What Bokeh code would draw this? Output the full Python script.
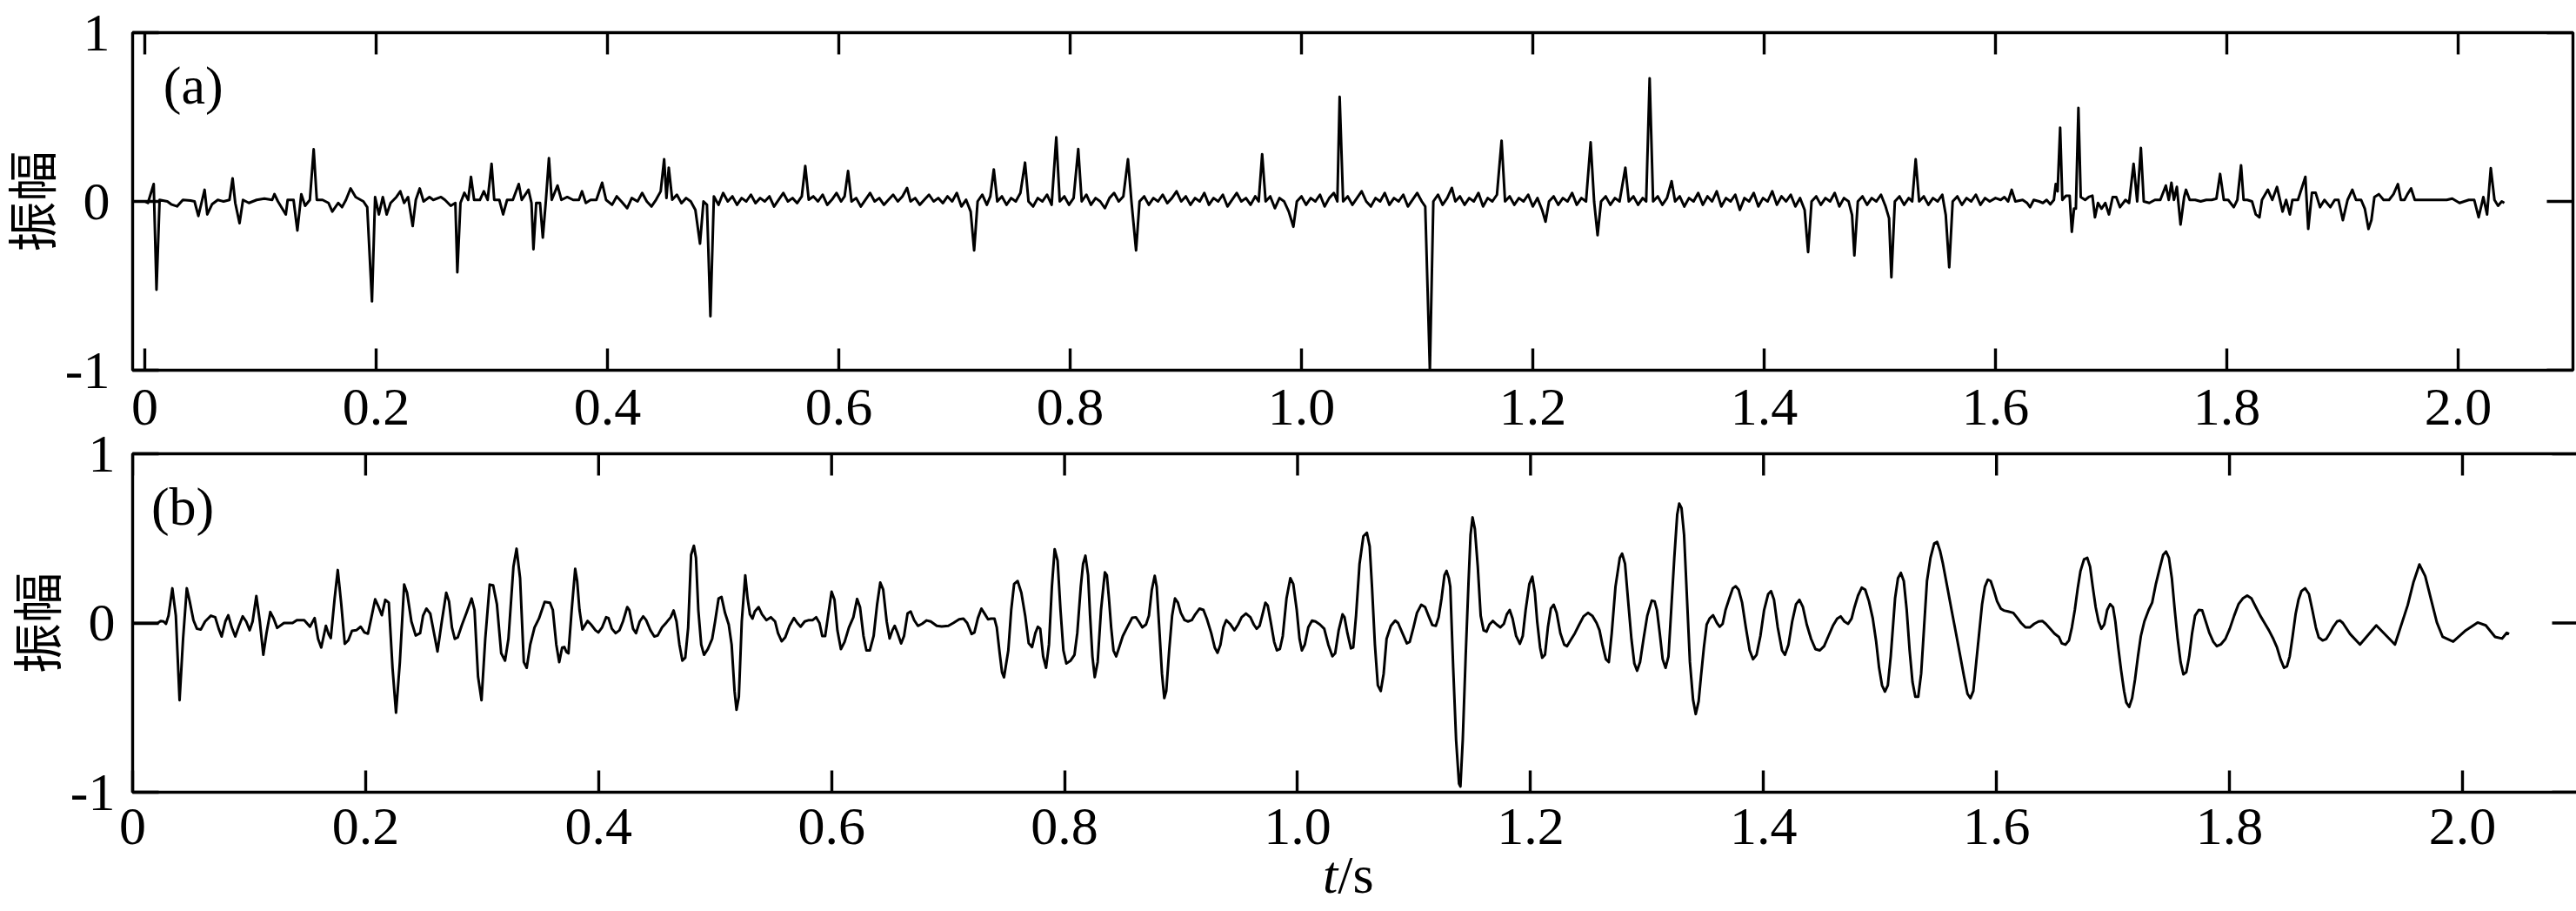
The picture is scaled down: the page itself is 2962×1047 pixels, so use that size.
import math
from bokeh.plotting import figure
from bokeh.models import Range1d, LinearAxis, FixedTicker, Label, Div
from bokeh.layouts import column
from bokeh.embed import file_html
from bokeh.resources import INLINE

# ---------------- data ----------------
# (a) reflectivity-like spike trace: (time s, amplitude)
trace_a = [
    (0, 0), (0.0027, -0.009), (0.0077, 0.103), (0.0101, -0.523), (0.0128, 0.009), (0.0195, 0),
    (0.0228, -0.017), (0.0279, -0.029), (0.0329, 0.009), (0.0396, 0.005), (0.043, 0), (0.0463, -0.086),
    (0.049, -0.009), (0.0517, 0.069), (0.054, -0.077), (0.0581, -0.017), (0.0631, 0.009), (0.0681, 0),
    (0.0732, 0.009), (0.0759, 0.137), (0.0782, -0.009), (0.0819, -0.129), (0.0849, 0.009), (0.09, -0.009),
    (0.0967, 0.009), (0.1034, 0.017), (0.1101, 0.009), (0.1121, 0.043), (0.1151, 0), (0.1219, -0.077),
    (0.1235, 0.009), (0.1286, 0.009), (0.1319, -0.172), (0.1353, 0.043), (0.1386, -0.026), (0.1427, 0.009),
    (0.146, 0.309), (0.1487, 0.009), (0.1537, 0.009), (0.1588, -0.009), (0.1621, -0.06), (0.1672, -0.009),
    (0.1705, -0.034), (0.1739, 0.009), (0.1779, 0.077), (0.1823, 0.026), (0.189, 0), (0.1923, -0.034),
    (0.1964, -0.592), (0.1991, 0.026), (0.2024, -0.077), (0.2058, 0.026), (0.2091, -0.077), (0.2125, -0.009),
    (0.2175, 0.026), (0.2209, 0.06), (0.2242, -0.009), (0.2276, 0.026), (0.2316, -0.146), (0.2343, 0.009),
    (0.2377, 0.077), (0.241, 0), (0.2461, 0.026), (0.2494, 0.009), (0.2561, 0.026), (0.2595, 0.009),
    (0.2645, -0.026), (0.2685, -0.009), (0.2702, -0.42), (0.2729, -0.009), (0.2763, 0.051), (0.2796, 0.009),
    (0.282, 0.146), (0.2847, 0.009), (0.2897, 0.009), (0.2931, 0.06), (0.2964, 0.009), (0.2998, 0.223),
    (0.3021, 0.009), (0.3065, 0.009), (0.3098, -0.077), (0.3132, 0.009), (0.3182, 0.009), (0.3233, 0.103),
    (0.3259, 0.009), (0.3317, 0.069), (0.3343, -0.009), (0.336, -0.283), (0.3384, -0.009), (0.3417, -0.009),
    (0.3441, -0.214), (0.3468, 0.009), (0.3494, 0.257), (0.3518, 0.009), (0.3568, 0.094), (0.3602, 0.009),
    (0.3652, 0.026), (0.3703, 0.009), (0.3753, 0.009), (0.378, 0.06), (0.3813, -0.009), (0.3854, 0.009),
    (0.3904, 0.009), (0.3954, 0.111), (0.3988, 0.009),
    (0.404, -0.02), (0.408, 0.03), (0.412, 0.0), (0.417, -0.04), (0.421, 0.02), (0.426, 0.0), (0.43, 0.05),
    (0.434, 0.0), (0.438, -0.03), (0.442, 0.01), (0.446, 0.06), (0.449, 0.25), (0.451, 0.02), (0.453, 0.2),
    (0.456, 0.01), (0.46, 0.04), (0.464, -0.01), (0.468, 0.02), (0.472, 0.0), (0.476, -0.05), (0.48, -0.25),
    (0.483, 0.0), (0.486, -0.02), (0.489, -0.68), (0.492, 0.03), (0.496, -0.02), (0.5, 0.05), (0.504, 0.0),
    (0.508, 0.03), (0.512, -0.02), (0.516, 0.02), (0.52, 0.0), (0.524, 0.04), (0.528, -0.01), (0.532, 0.02),
    (0.536, 0.0), (0.54, 0.03), (0.544, -0.03), (0.548, 0.01), (0.552, 0.05), (0.556, 0.0), (0.56, 0.02),
    (0.564, -0.01), (0.568, 0.03), (0.571, 0.21), (0.574, 0.01), (0.578, 0.03), (0.582, 0.0), (0.586, 0.04),
    (0.59, -0.02), (0.594, 0.01), (0.598, 0.05), (0.602, 0.0), (0.605, 0.03), (0.608, 0.18), (0.611, 0.0),
    (0.615, 0.02), (0.619, -0.03), (0.623, 0.01), (0.627, 0.05), (0.631, 0.0), (0.635, 0.02), (0.639, -0.02),
    (0.643, 0.01), (0.647, 0.04), (0.651, 0.0), (0.655, 0.03), (0.659, 0.08), (0.662, 0.0), (0.666, 0.02),
    (0.67, -0.02), (0.674, 0.01), (0.678, 0.04), (0.682, 0.0), (0.686, 0.02), (0.69, -0.01), (0.694, 0.03),
    (0.698, 0.0), (0.702, 0.05), (0.706, -0.03), (0.71, 0.01), (0.714, -0.06), (0.717, -0.29), (0.72, 0.0),
    (0.724, 0.04), (0.728, -0.02), (0.731, 0.03), (0.734, 0.19), (0.737, 0.0), (0.741, 0.03), (0.745, -0.02),
    (0.749, 0.02), (0.753, 0.0), (0.757, 0.05), (0.761, 0.23), (0.764, 0.0), (0.768, -0.03), (0.772, 0.02),
    (0.776, 0.0), (0.78, 0.04), (0.784, -0.02), (0.788, 0.38), (0.791, 0.0), (0.795, 0.03), (0.799, -0.02),
    (0.803, 0.02), (0.807, 0.31), (0.81, 0.0), (0.814, 0.04), (0.818, -0.02), (0.822, 0.02), (0.826, 0.0),
    (0.83, -0.04), (0.834, 0.02), (0.838, 0.05), (0.842, 0.0), (0.846, 0.03), (0.85, 0.25), (0.853, 0.0),
    (0.857, -0.29), (0.86, 0.0), (0.864, 0.03), (0.868, -0.02), (0.872, 0.02), (0.876, 0.0), (0.88, 0.04),
    (0.884, -0.01), (0.888, 0.02), (0.892, 0.06), (0.896, 0.0), (0.9, 0.03), (0.904, -0.02), (0.908, 0.02),
    (0.912, 0.0), (0.916, 0.05), (0.92, -0.02), (0.924, 0.02), (0.928, 0.0), (0.932, 0.04), (0.936, -0.03),
    (0.94, 0.01), (0.944, 0.05), (0.948, 0.0), (0.952, 0.02), (0.956, -0.02), (0.96, 0.03), (0.963, 0.0),
    (0.966, 0.28), (0.969, 0.0), (0.973, 0.03), (0.977, -0.04), (0.981, 0.02), (0.985, 0.0), (0.989, -0.06),
    (0.993, -0.15), (0.996, 0.0), (1.0, 0.03), (1.004, -0.02), (1.008, 0.02), (1.012, 0.0), (1.016, 0.04),
    (1.02, -0.03), (1.024, 0.02), (1.028, 0.05), (1.031, 0.0), (1.033, 0.62), (1.036, 0.0), (1.04, 0.03),
    (1.044, -0.02), (1.048, 0.02), (1.052, 0.06), (1.056, 0.0), (1.06, -0.03), (1.064, 0.02), (1.068, 0.0),
    (1.072, 0.05), (1.076, -0.02), (1.08, 0.02), (1.084, 0.0), (1.088, 0.04), (1.092, -0.03), (1.096, 0.01),
    (1.1, 0.05), (1.104, 0.0), (1.107, -0.03), (1.111, -1.0), (1.114, 0.0), (1.118, 0.04), (1.122, -0.02),
    (1.126, 0.02), (1.13, 0.08), (1.133, 0.0), (1.137, 0.03), (1.141, -0.02), (1.145, 0.02), (1.149, 0.0),
    (1.153, 0.05), (1.157, -0.03), (1.161, 0.02), (1.165, 0.0), (1.169, 0.04), (1.173, 0.36), (1.176, 0.0),
    (1.18, 0.03), (1.184, -0.02), (1.188, 0.02), (1.192, 0.0), (1.196, 0.04), (1.2, -0.03), (1.204, 0.02),
    (1.208, -0.05), (1.211, -0.12), (1.214, 0.0), (1.218, 0.03), (1.222, -0.02), (1.226, 0.02), (1.23, 0.0),
    (1.234, 0.05), (1.238, -0.02), (1.242, 0.02), (1.246, 0.0), (1.25, 0.35), (1.253, 0.0), (1.256, -0.2),
    (1.259, 0.0), (1.263, 0.03), (1.267, -0.02), (1.271, 0.02), (1.275, 0.0), (1.28, 0.2), (1.283, 0.0),
    (1.287, 0.03), (1.291, -0.02), (1.295, 0.02), (1.298, 0.0), (1.301, 0.73), (1.304, 0.0), (1.308, 0.03),
    (1.312, -0.02), (1.316, 0.02), (1.32, 0.12), (1.323, 0.0), (1.327, 0.03), (1.331, -0.03), (1.335, 0.02),
    (1.339, 0.0), (1.343, 0.05), (1.347, -0.02), (1.351, 0.03), (1.355, 0.0), (1.359, 0.06), (1.363, -0.03),
    (1.367, 0.02), (1.371, 0.0), (1.375, 0.04), (1.379, -0.05), (1.383, 0.02), (1.387, 0.0), (1.391, 0.05),
    (1.395, -0.03), (1.399, 0.02), (1.403, 0.0), (1.407, 0.06), (1.411, -0.02), (1.415, 0.03), (1.419, 0.0),
    (1.423, 0.04), (1.427, -0.03), (1.431, 0.02), (1.435, -0.05), (1.438, -0.3), (1.441, 0.0), (1.445, 0.03),
    (1.449, -0.02), (1.453, 0.02), (1.457, 0.0), (1.461, 0.05), (1.465, -0.03), (1.469, 0.02), (1.473, 0.0),
    (1.476, -0.08), (1.478, -0.32), (1.481, 0.0), (1.485, 0.03), (1.489, -0.02), (1.493, 0.02), (1.497, 0.0),
    (1.501, 0.04), (1.505, -0.03), (1.508, -0.1), (1.51, -0.45), (1.513, 0.0), (1.517, 0.03), (1.521, -0.02),
    (1.525, 0.02), (1.528, 0.0), (1.531, 0.25), (1.534, 0.0), (1.538, 0.03), (1.542, -0.02), (1.546, 0.02),
    (1.55, 0.0), (1.554, 0.04), (1.557, -0.08), (1.56, -0.39), (1.563, 0.0), (1.567, 0.03), (1.571, -0.02),
    (1.575, 0.02), (1.579, 0.0), (1.583, 0.04), (1.587, -0.02), (1.591, 0.02), (1.595, 0.0), (1.6, 0.02),
    (1.6045, 0.009), (1.6077, 0.026), (1.6109, 0), (1.614, 0.069), (1.6172, 0), (1.6235, 0.009),
    (1.6273, -0.009), (1.6299, -0.034), (1.6331, 0.009), (1.6378, 0), (1.641, -0.009), (1.6442, 0.009),
    (1.6474, -0.017), (1.6505, 0.009), (1.6521, 0.103), (1.6537, 0.06), (1.6559, 0.437), (1.6578, 0.009),
    (1.6609, 0.034), (1.6641, 0.034), (1.666, -0.18), (1.6679, -0.043), (1.6695, -0.043), (1.6717, 0.554),
    (1.6737, 0.026), (1.6775, 0.009), (1.6806, 0.026), (1.6838, 0.034), (1.686, -0.094), (1.6886, -0.009),
    (1.6917, -0.043), (1.6949, -0.009), (1.6981, -0.077), (1.7013, 0.026), (1.7044, 0.026), (1.7076, -0.034),
    (1.7124, 0.009), (1.7155, -0.009), (1.7194, 0.223), (1.7225, 0), (1.7257, 0.317), (1.7282, 0),
    (1.733, -0.009), (1.7378, 0.009), (1.7425, 0.009), (1.7473, 0.094), (1.7498, 0.009), (1.7521, 0.111),
    (1.7543, 0.009), (1.7568, 0.086), (1.76, -0.137), (1.7631, 0.026), (1.7647, 0.069), (1.7679, 0.009),
    (1.7727, 0.009), (1.7774, 0), (1.7822, 0.009), (1.7869, 0.009), (1.791, 0.017), (1.7942, 0.163),
    (1.7974, 0.009), (1.8012, 0.009), (1.806, -0.034), (1.8091, 0.009), (1.8123, 0.214), (1.8145, 0.009),
    (1.8177, 0.009), (1.8218, 0), (1.825, -0.077), (1.8282, -0.094), (1.8304, 0.009), (1.8355, 0.069),
    (1.8393, 0.009), (1.8434, 0.086), (1.8482, -0.06), (1.8513, 0.009), (1.8545, -0.077), (1.8567, 0.009),
    (1.8615, 0.009), (1.8679, 0.146), (1.8704, -0.163), (1.8736, 0.051), (1.8768, 0.051), (1.8806, -0.034),
    (1.8844, 0.009), (1.8895, -0.034), (1.8933, 0.009), (1.8965, 0.009), (1.9003, -0.111), (1.9044, 0.009),
    (1.9085, 0.069), (1.9117, 0.009), (1.9161, 0.009), (1.9193, -0.043), (1.9225, -0.163), (1.925, -0.111),
    (1.9276, 0.026), (1.9314, 0.043), (1.9355, 0.009), (1.9403, 0.009), (1.9441, 0.043), (1.9479, 0.103),
    (1.9505, 0.009), (1.9536, 0.009), (1.9562, 0.043), (1.9593, 0.077), (1.9625, 0.009), (1.9663, 0.009),
    (1.9727, 0.009), (1.9822, 0.009), (1.9901, 0.009), (1.9949, 0.017), (2.0012, -0.009), (2.0092, 0.009),
    (2.0139, 0.009), (2.0177, -0.094), (2.0218, 0.026), (2.025, -0.077), (2.0282, 0.197), (2.0314, 0.009),
    (2.0345, -0.026), (2.0377, 0), (2.0399, -0.009),
]

# (b) synthetic seismic trace: (time s, amplitude)
trace_b = [
    (0, 0), (0.0216, 0), (0.0241, 0.012), (0.0266, 0.009), (0.0286, -0.005), (0.0308, 0.043), (0.0341, 0.205),
    (0.0371, 0.043), (0.0403, -0.456), (0.0433, -0.094), (0.0465, 0.205), (0.049, 0.128), (0.0522, 0.017),
    (0.0552, -0.034), (0.0585, -0.039), (0.0622, 0.009), (0.0672, 0.043), (0.0709, 0.034), (0.0739, -0.034),
    (0.0764, -0.08), (0.0796, 0.009), (0.0821, 0.046), (0.0851, -0.026), (0.0881, -0.08), (0.0913, -0.017),
    (0.0945, 0.039), (0.0975, 0.009), (0.1005, -0.043), (0.103, 0.009), (0.1062, 0.159), (0.1092, 0.009),
    (0.1122, -0.188), (0.1149, -0.06), (0.1182, 0.065), (0.1211, 0.026), (0.1241, -0.029), (0.1299, 0),
    (0.1373, 0), (0.141, 0.017), (0.1473, 0.017), (0.1522, -0.022), (0.1562, 0.029), (0.1592, -0.094),
    (0.1619, -0.145), (0.1659, -0.017), (0.1684, -0.068), (0.1701, -0.089), (0.1734, 0.145), (0.1761, 0.313),
    (0.1791, 0.111), (0.1821, -0.123), (0.1851, -0.103), (0.1883, -0.046), (0.192, -0.043), (0.1958, -0.022),
    (0.199, -0.056), (0.202, -0.063), (0.205, 0.034), (0.2082, 0.14), (0.2112, 0.094), (0.2139, 0.046),
    (0.2169, 0.137), (0.2199, 0.12), (0.2231, -0.265), (0.2261, -0.53), (0.2294, -0.231), (0.2331, 0.227),
    (0.2356, 0.179), (0.2393, 0.009), (0.243, -0.074), (0.2468, -0.06), (0.2493, 0.043), (0.2522, 0.085),
    (0.2555, 0.056), (0.2592, -0.077), (0.2617, -0.168), (0.2654, 0.009), (0.2692, 0.179), (0.2716, 0.128),
    (0.2741, -0.026), (0.2766, -0.094), (0.2791, -0.085), (0.2828, -0.009), (0.2866, 0.06), (0.291, 0.145),
    (0.2935, 0.077), (0.2965, -0.316), (0.2995, -0.456), (0.3027, -0.094), (0.3065, 0.227), (0.3095, 0.222),
    (0.3127, 0.111), (0.3164, -0.179), (0.3197, -0.222), (0.3226, -0.094), (0.3269, 0.333), (0.3296, 0.439),
    (0.3326, 0.265), (0.3358, -0.231), (0.3383, -0.265), (0.3413, -0.128), (0.345, -0.026), (0.3488, 0.026),
    (0.3537, 0.125), (0.3582, 0.12), (0.3607, 0.077), (0.3637, -0.128), (0.3662, -0.231),
    (0.3687, -0.145), (0.3706, -0.142), (0.3724, -0.171), (0.3741, -0.179), (0.3769, 0.077), (0.3799, 0.32),
    (0.3816, 0.248), (0.3836, 0.077), (0.3861, -0.039), (0.3905, 0.012), (0.3935, -0.009), (0.3973, -0.043),
    (0.3998, -0.056), (0.403, -0.026), (0.4065, 0.034), (0.4085, 0.029), (0.4114, -0.034), (0.4147, -0.06),
    (0.4179, -0.043), (0.4209, 0.009), (0.4246, 0.094), (0.4264, 0.077), (0.4296, -0.034), (0.4321, -0.06),
    (0.4353, 0.009), (0.4383, 0.039), (0.4408, 0.017), (0.4445, -0.043), (0.4478, -0.08), (0.4507, -0.074),
    (0.4545, -0.026), (0.4582, 0.003), (0.4619, 0.034), (0.4644, 0.074), (0.4669, 0.009), (0.4694, -0.128),
    (0.4719, -0.222), (0.4744, -0.205), (0.4769, -0.026), (0.4794, 0.402), (0.4818, 0.456), (0.4836, 0.385),
    (0.4856, 0.077), (0.4881, -0.128), (0.4905, -0.188), (0.4938, -0.154), (0.4975, -0.094), (0.5, 0.009),
    (0.503, 0.145), (0.5055, 0.154), (0.5085, 0.06), (0.5117, -0.009), (0.5142, -0.128), (0.5167, -0.402),
    (0.5184, -0.513), (0.5204, -0.436), (0.5229, 0.009), (0.5259, 0.282), (0.5279, 0.145), (0.5299, 0.051),
    (0.5321, 0.026), (0.5341, 0.068), (0.5373, 0.094), (0.5403, 0.051), (0.544, 0.017), (0.5478, 0.034),
    (0.5515, 0.009), (0.554, -0.06), (0.5572, -0.108), (0.5602, -0.085), (0.5639, -0.017), (0.5677, 0.029),
    (0.5706, 0), (0.5734, -0.022), (0.5769, 0.009), (0.5806, 0.017), (0.5838, 0.017), (0.5868, 0.034),
    (0.5896, 0), (0.592, -0.077), (0.5945, -0.077), (0.597, 0.043), (0.6, 0.185), (0.6025, 0.137),
    (0.605, -0.043), (0.608, -0.154), (0.6112, -0.111), (0.6149, -0.026), (0.6187, 0.034), (0.6219, 0.142),
    (0.6244, 0.094), (0.6274, -0.077), (0.6299, -0.162), (0.6328, -0.162), (0.6361, -0.077), (0.6391, 0.111),
    (0.6418, 0.239), (0.6443, 0.197), (0.6473, 0.009), (0.6498, -0.091), (0.6522, -0.043), (0.6542, -0.017),
    (0.6567, -0.06), (0.6597, -0.121), (0.6622, -0.077), (0.6652, 0.056), (0.6679, 0.068), (0.6709, 0.017),
    (0.6741, -0.017), (0.6776, -0.005), (0.6816, 0.015), (0.6851, 0.009), (0.6903, -0.017), (0.6945, -0.021),
    (0.7002, -0.017), (0.7045, 0), (0.7095, 0.022), (0.7132, 0.026), (0.7164, 0), (0.7202, -0.065),
    (0.7226, -0.056), (0.7256, 0.029), (0.7286, 0.085), (0.7313, 0.056), (0.7343, 0.022), (0.7368, 0.026),
    (0.7398, 0.026), (0.7418, -0.026), (0.7443, -0.179), (0.7463, -0.291), (0.748, -0.321),
    (0.7517, -0.162), (0.7542, 0.077), (0.7567, 0.231), (0.7597, 0.248), (0.7629, 0.179), (0.7662, 0.043),
    (0.7692, -0.12), (0.7721, -0.142), (0.7749, -0.06), (0.7771, -0.022), (0.7791, -0.034), (0.7816, -0.197),
    (0.7841, -0.265), (0.7866, -0.128), (0.7891, 0.214), (0.7915, 0.436), (0.794, 0.368), (0.7965, 0.077),
    (0.799, -0.162), (0.8015, -0.239), (0.8052, -0.222), (0.8085, -0.188), (0.8109, -0.06), (0.8139, 0.214),
    (0.8159, 0.35), (0.8179, 0.398), (0.8202, 0.282), (0.8219, 0.043), (0.8239, -0.197), (0.8259, -0.32),
    (0.8284, -0.231), (0.8313, 0.077), (0.8333, 0.214), (0.8346, 0.299), (0.8363, 0.282), (0.8381, 0.145),
    (0.84, -0.026), (0.842, -0.162), (0.8443, -0.197), (0.8468, -0.145), (0.85, -0.077), (0.8537, -0.026),
    (0.858, 0.031), (0.8612, 0.034), (0.8637, 0.009), (0.8667, -0.026), (0.8699, -0.009), (0.8724, 0.043),
    (0.8749, 0.197), (0.8774, 0.279), (0.8791, 0.214), (0.8811, -0.009), (0.8836, -0.299), (0.8856, -0.444),
    (0.8873, -0.402), (0.8898, -0.162), (0.8923, 0.043), (0.8948, 0.145), (0.8973, 0.12), (0.8998, 0.06),
    (0.903, 0.017), (0.906, 0.009), (0.9092, 0.017), (0.9122, 0.051), (0.9159, 0.085), (0.9192, 0.077),
    (0.9221, 0.026), (0.9259, -0.06), (0.9289, -0.145), (0.9313, -0.176), (0.9338, -0.128), (0.9363, -0.026),
    (0.9388, 0.017), (0.942, -0.005), (0.9458, -0.043), (0.949, -0.009), (0.952, 0.034), (0.9557, 0.056),
    (0.9595, 0.034), (0.9624, -0.009), (0.9649, -0.034), (0.9674, -0.017), (0.9699, 0.051), (0.9724, 0.12),
    (0.9744, 0.103), (0.9769, 0.009), (0.9799, -0.111), (0.9823, -0.162), (0.9848, -0.154), (0.9873, -0.077),
    (0.9905, 0.145), (0.9938, 0.265), (0.9963, 0.231), (0.9993, 0.077), (1.0017, -0.094), (1.0037, -0.162),
    (1.0062, -0.128), (1.0092, -0.026), (1.0124, 0.014), (1.0154, 0.009), (1.0192, -0.009), (1.0229, -0.034),
    (1.0264, -0.128), (1.0299, -0.197), (1.0323, -0.179), (1.0353, -0.043), (1.0386, 0.051), (1.0403, 0.034),
    (1.0428, -0.06), (1.0458, -0.15), (1.0478, -0.145), (1.0502, 0.043), (1.0532, 0.35), (1.0565, 0.513),
    (1.0595, 0.533), (1.0619, 0.453), (1.0639, 0.214), (1.0664, -0.128), (1.0689, -0.368), (1.0714, -0.402),
    (1.0739, -0.299), (1.0764, -0.094), (1.0801, -0.017), (1.0838, 0.014), (1.0863, 0), (1.09, -0.06),
    (1.0938, -0.12), (1.0963, -0.111), (1.0995, -0.026), (1.1025, 0.06), (1.1062, 0.108), (1.1095, 0.094),
    (1.1124, 0.043), (1.1157, -0.012), (1.1187, -0.017), (1.1211, 0.034), (1.1236, 0.145), (1.1261, 0.282),
    (1.1279, 0.308), (1.1299, 0.265),
    (1.1311, 0.214), (1.1336, -0.265), (1.1361, -0.692), (1.1386, -0.949), (1.1398, -0.966), (1.1418, -0.692),
    (1.1443, -0.197), (1.1468, 0.248), (1.1485, 0.521), (1.1502, 0.624), (1.1522, 0.556), (1.1547, 0.333),
    (1.1572, 0.043), (1.1597, -0.043), (1.1622, -0.051), (1.1647, -0.009), (1.1676, 0.012), (1.1709, -0.009),
    (1.1741, -0.026), (1.1771, -0.005), (1.1796, 0.051), (1.1821, 0.077), (1.1846, 0.026), (1.1876, -0.077),
    (1.1908, -0.123), (1.1933, -0.077), (1.1958, 0.077), (1.199, 0.231), (1.2015, 0.274), (1.2037, 0.179),
    (1.2057, 0.009), (1.2082, -0.145), (1.21, -0.205), (1.2124, -0.188), (1.2149, -0.026), (1.2174, 0.085),
    (1.2199, 0.108), (1.2224, 0.06), (1.2256, -0.06), (1.2289, -0.128), (1.2313, -0.137), (1.2343, -0.103),
    (1.2381, -0.06), (1.2418, -0.009), (1.2455, 0.039), (1.2493, 0.06), (1.253, 0.043), (1.2567, 0),
    (1.2592, -0.043), (1.2617, -0.128), (1.2647, -0.214), (1.2672, -0.231), (1.2697, -0.06), (1.2729, 0.214),
    (1.2766, 0.385), (1.2786, 0.41), (1.2811, 0.35), (1.2836, 0.145), (1.2866, -0.094), (1.2891, -0.239),
    (1.2915, -0.282), (1.294, -0.231), (1.297, -0.094), (1.3002, 0.043), (1.304, 0.132), (1.3065, 0.128),
    (1.3085, 0.077), (1.3109, -0.06), (1.3134, -0.214), (1.3159, -0.265), (1.3184, -0.197), (1.3209, 0.094),
    (1.3234, 0.385), (1.3259, 0.641), (1.3276, 0.706), (1.3296, 0.679), (1.3318, 0.521), (1.3343, 0.145),
    (1.3368, -0.231), (1.3395, -0.453), (1.3418, -0.538), (1.3443, -0.462), (1.3463, -0.316), (1.3488, -0.145),
    (1.3512, -0.009), (1.3537, 0.026), (1.3567, 0.046), (1.36, 0), (1.3624, -0.022), (1.3649, -0.005),
    (1.3674, 0.077), (1.3706, 0.145), (1.3736, 0.205), (1.3761, 0.217), (1.3786, 0.197), (1.3816, 0.12),
    (1.3848, -0.026), (1.3881, -0.162), (1.391, -0.214), (1.394, -0.188), (1.3973, -0.077), (1.4005, 0.077),
    (1.404, 0.171), (1.4065, 0.188), (1.409, 0.137), (1.4122, -0.026), (1.4159, -0.162), (1.4184, -0.188),
    (1.4214, -0.128), (1.4246, 0.009), (1.4279, 0.111), (1.4308, 0.137), (1.4338, 0.094), (1.4371, -0.009),
    (1.4408, -0.094), (1.4445, -0.154), (1.4483, -0.162), (1.452, -0.137), (1.4557, -0.077), (1.4595, -0.017),
    (1.4632, 0.026), (1.4662, 0.039), (1.4694, 0.009), (1.4726, -0.005), (1.4756, 0.026), (1.4781, 0.094),
    (1.4811, 0.162), (1.4843, 0.209), (1.4873, 0.197), (1.4905, 0.128), (1.4938, 0.026), (1.4967, -0.111),
    (1.4992, -0.265), (1.5017, -0.368), (1.5042, -0.405), (1.5067, -0.368), (1.5092, -0.197),
    (1.5129, 0.145), (1.5154, 0.265), (1.5179, 0.296), (1.5204, 0.248), (1.5229, 0.077), (1.5254, -0.162),
    (1.5279, -0.35), (1.5303, -0.436), (1.5328, -0.436), (1.5353, -0.299), (1.5378, -0.026), (1.5403, 0.248),
    (1.5433, 0.385), (1.5465, 0.47), (1.549, 0.479), (1.5515, 0.427), (1.554, 0.35), (1.5577, 0.214),
    (1.5614, 0.077), (1.5652, -0.06), (1.5689, -0.197), (1.5721, -0.316), (1.5751, -0.419), (1.5776, -0.444),
    (1.5801, -0.402), (1.5826, -0.231), (1.5851, -0.06), (1.5876, 0.111), (1.59, 0.214), (1.5925, 0.256),
    (1.595, 0.248), (1.5975, 0.197), (1.6005, 0.128), (1.6037, 0.085), (1.6062, 0.074), (1.61, 0.068),
    (1.6144, 0.06), (1.6174, 0.034), (1.6211, 0), (1.6249, -0.026), (1.6286, -0.026), (1.6323, -0.005),
    (1.6361, 0.009), (1.6393, 0.012), (1.6423, -0.005), (1.646, -0.034), (1.6498, -0.063), (1.6535, -0.082),
    (1.656, -0.12), (1.6592, -0.128), (1.6622, -0.103), (1.6647, -0.026), (1.6672, 0.077), (1.6697, 0.205),
    (1.6721, 0.308), (1.6751, 0.376), (1.6779, 0.385), (1.6803, 0.333), (1.6826, 0.214), (1.6851, 0.094),
    (1.6876, 0.009), (1.69, -0.034), (1.6925, -0.009), (1.695, 0.077), (1.6975, 0.111), (1.7, 0.094),
    (1.702, 0.009), (1.7045, -0.145), (1.707, -0.282), (1.7095, -0.402), (1.7114, -0.47), (1.7139, -0.496),
    (1.7164, -0.444), (1.7189, -0.333), (1.7214, -0.197), (1.7239, -0.077), (1.7269, 0.009), (1.7306, 0.077),
    (1.7336, 0.12), (1.7368, 0.231), (1.7398, 0.316), (1.743, 0.402), (1.7455, 0.422), (1.748, 0.385),
    (1.7505, 0.265), (1.753, 0.077), (1.7555, -0.094), (1.758, -0.231), (1.7604, -0.303), (1.7629, -0.291),
    (1.7654, -0.197), (1.7679, -0.06), (1.7704, 0.043), (1.7736, 0.077), (1.7766, 0.074), (1.7796, 0.009),
    (1.7828, -0.06), (1.7861, -0.111), (1.7891, -0.137), (1.7928, -0.125), (1.7965, -0.094), (1.8002, -0.034),
    (1.804, 0.043), (1.8077, 0.111), (1.8114, 0.145), (1.8152, 0.162), (1.8189, 0.145), (1.8226, 0.094),
    (1.8264, 0.043), (1.8301, 0), (1.8338, -0.043), (1.8376, -0.094), (1.8408, -0.145), (1.8438, -0.214),
    (1.8468, -0.265), (1.8493, -0.256), (1.8517, -0.197), (1.8542, -0.077), (1.8567, 0.051), (1.8592, 0.137),
    (1.8617, 0.188), (1.8649, 0.205), (1.8682, 0.171), (1.8711, 0.077), (1.8741, -0.026), (1.8766, -0.085),
    (1.8799, -0.103), (1.8831, -0.094), (1.8861, -0.06), (1.8891, -0.022), (1.8923, 0.009), (1.8948, 0.015),
    (1.8973, 0), (1.9035, -0.065), (1.912, -0.127), (1.926, -0.014), (1.942, -0.127), (1.953, 0.106),
    (1.958, 0.243), (1.963, 0.346), (1.968, 0.277), (1.973, 0.14), (1.978, 0.003), (1.983, -0.082),
    (1.992, -0.11), (2.002, -0.048), (2.013, 0.003), (2.02, -0.014), (2.028, -0.082), (2.034, -0.092),
    (2.038, -0.058), (2.04, -0.065),
]

t_a = [p[0] for p in trace_a]
amp_a = [p[1] for p in trace_a]
t_b = [p[0] for p in trace_b]
amp_b = [p[1] for p in trace_b]

x_ticks = [0, 0.2, 0.4, 0.6, 0.8, 1.0, 1.2, 1.4, 1.6, 1.8, 2.0]
x_tick_labels = ["0", "0.2", "0.4", "0.6", "0.8", "1.0", "1.2", "1.4", "1.6", "1.8", "2.0"]
y_ticks = [-1, 0, 1]
y_tick_labels = ["-1", "0", "1"]
panel_tags = ["(a)", "(b)"]
y_title = "振幅"
x_title_html = "<i>t</i>/s"

# ---------------- styling ----------------
SERIF = "Liberation Serif"
TITLE_FONT = "Liberation Serif, Noto Sans CJK SC"
FS = "62px"
LW = 3.4
TRACE_W = 3.0


def make_axis(ticks, labels, tick_len, standoff):
    ax = LinearAxis(ticker=FixedTicker(ticks=ticks, minor_ticks=[]))
    ax.axis_line_color = None
    ax.major_tick_in = tick_len
    ax.major_tick_out = 0
    ax.minor_tick_in = 0
    ax.minor_tick_out = 0
    ax.minor_tick_line_color = None
    ax.major_tick_line_color = "black"
    ax.major_tick_line_width = LW
    ax.major_label_overrides = {tk: lb for tk, lb in zip(ticks, labels)}
    ax.major_label_text_font = SERIF
    ax.major_label_text_font_size = FS
    ax.major_label_text_color = "black"
    ax.major_label_standoff = standoff
    return ax


def make_panel(xr, frame_w, frame_h, border_left, border_top, border_bottom,
               y_std, x_std, title_std, t, amp, tag):
    p = figure(frame_width=frame_w, frame_height=frame_h, x_range=xr, y_range=Range1d(-1, 1),
               x_axis_type=None, y_axis_type=None, output_backend="svg", toolbar_location=None,
               min_border_left=border_left, min_border_right=4, min_border_top=border_top,
               min_border_bottom=border_bottom)
    p.outline_line_color = "black"
    p.outline_line_width = LW
    p.outline_line_alpha = 1
    p.background_fill_color = "white"

    left = make_axis(y_ticks, y_tick_labels, 30, y_std)
    left.axis_label = y_title
    left.axis_label_text_font = TITLE_FONT
    left.axis_label_text_font_size = "58px"
    left.axis_label_text_font_style = "normal"
    left.axis_label_text_color = "black"
    left.axis_label_standoff = title_std
    p.add_layout(left, "left")
    p.add_layout(make_axis(x_ticks, x_tick_labels, 25, x_std), "below")

    # mirrored inward ticks on the top and right edges (half of each dash is clipped by the frame)
    y_top = p.y_range.end
    x_right = p.x_range.end
    p.scatter(x=x_ticks, y=[y_top] * len(x_ticks), marker="dash", angle=math.pi / 2, size=50,
              line_color="black", line_width=LW)
    p.scatter(x=[x_right] * len(y_ticks), y=y_ticks, marker="dash", size=60,
              line_color="black", line_width=LW)

    p.line(t, amp, line_color="black", line_width=TRACE_W, line_join="round")
    p.add_layout(Label(x=0.016, y=0.69, text=tag, text_font=SERIF, text_font_size=FS,
                       text_color="black", text_baseline="middle", text_align="left"))
    return p


p1 = make_panel(Range1d(-0.01053, 2.09925), 2806, 388, 152, 37, 110, 26, 22, 0,
                t_a, amp_a, panel_tags[0])
p2 = make_panel(Range1d(0, 2.0993), 2812, 389, 146, 40, 95, 20, 19, 0,
                t_b, amp_b, panel_tags[1])
p2.border_fill_alpha = 0
p2.margin = (-54, 0, 0, 0)

x_title = Div(text=('<div style="font-family: \'Liberation Serif\', serif; font-size: 62px; '
                    'line-height: 62px; white-space: nowrap; color: black; margin: 0; padding: 0;">'
                    + x_title_html + '</div>'),
              width=200, height=62, margin=(-31, 0, 0, 1521))

layout = column(p1, p2, x_title, spacing=0)

open("out.html", "w").write(file_html(layout, INLINE))
